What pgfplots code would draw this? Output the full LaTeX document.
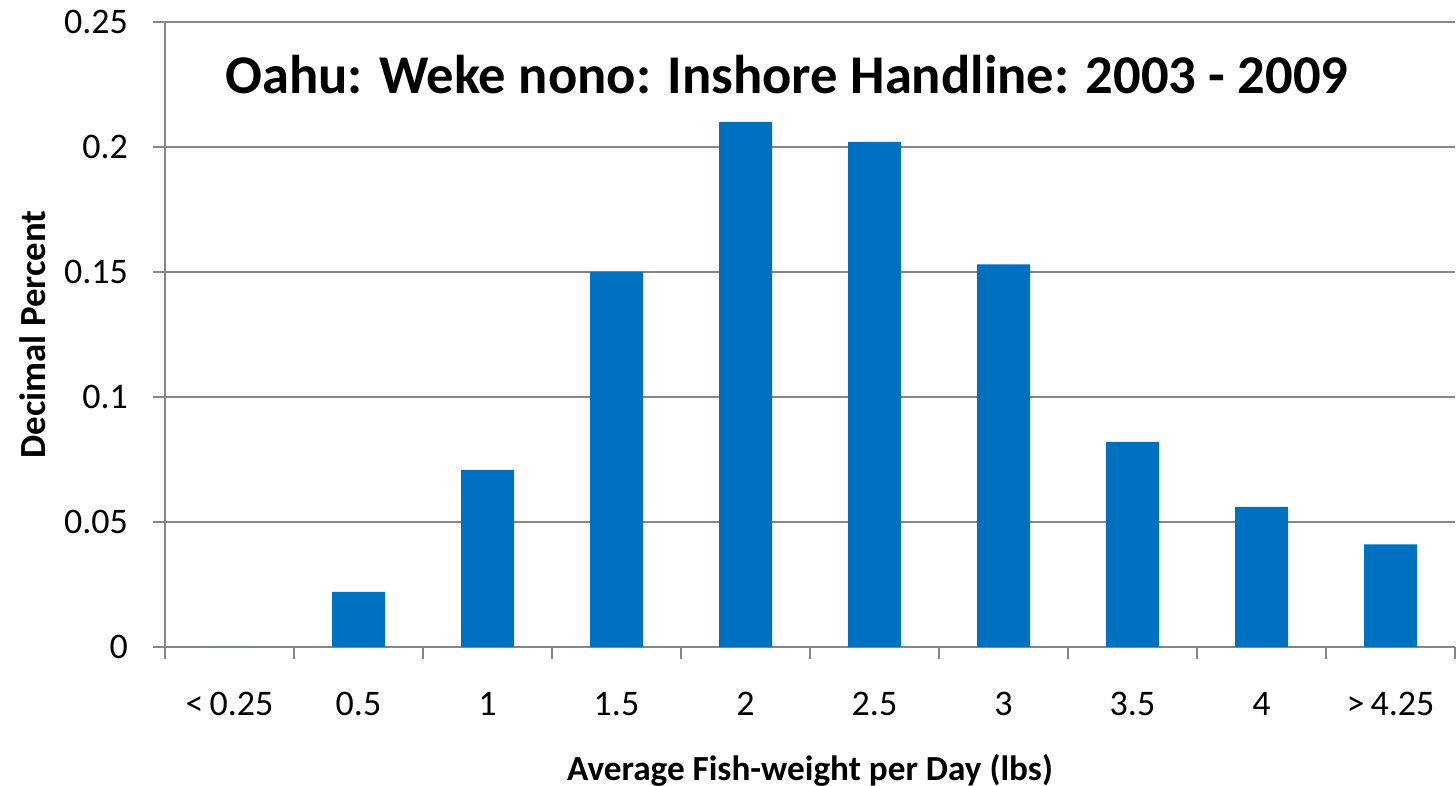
\documentclass[border=0pt]{standalone}
\usepackage{pgfplots}
\pgfplotsset{compat=1.18}
\usepackage{fontspec}
\setmainfont{Carlito}
\definecolor{barblue}{HTML}{0070C0}
\definecolor{axgray}{HTML}{868686}
\begin{document}
\begin{tikzpicture}
\begin{axis}[
  at={(0,0)}, anchor=south west,
  scale only axis,
  width=645pt, height=312.5pt,
  xmin=-0.5, xmax=9.5,
  ymin=0, ymax=0.25,
  axis x line*=bottom,
  axis y line*=left,
  axis line style={axgray, line width=1pt},
  ytick={0,0.05,...,0.25},
  yticklabels={0,0.05,0.1,0.15,0.2,0.25},
  ymajorgrids,
  grid style={axgray, line width=0.8pt},
  xtick={0,...,9},
  xticklabels={{<\,0.25},0.5,1,1.5,2,2.5,3,3.5,4,{>\,4.25}},
  minor xtick={-0.5,0.5,...,9.5},
  tick align=outside,
  major tick length=6pt,
  minor tick length=6pt,
  x tick style={draw=none},
  minor x tick style={draw=axgray, line width=1pt},
  y tick style={draw=axgray, line width=0.8pt},
  xticklabel style={font=\fontsize{18}{21}\selectfont, yshift=-13pt},
  yticklabel style={font=\fontsize{18}{21}\selectfont, xshift=-9pt},
  /pgf/number format/assume math mode=true,
  xlabel={\textbf{Average Fish-weight per Day (lbs)}},
  ylabel={\textbf{Decimal Percent}},
  xlabel style={font=\fontsize{17.6}{20}\selectfont, at={(axis description cs:0.5,0)}, anchor=center, yshift=-61.5pt},
  ylabel style={font=\fontsize{18.4}{20}\selectfont, at={(axis description cs:0,0.5)}, anchor=center, xshift=0pt, yshift=66pt},
  clip=false,
]
\addplot[ybar, bar width=26.5pt, fill=barblue, draw=none] coordinates {
 (0,0) (1,0.022) (2,0.0708) (3,0.150) (4,0.210) (5,0.202) (6,0.153) (7,0.082) (8,0.056) (9,0.041)
};
\node[font=\fontsize{27.3}{32}\selectfont\bfseries, anchor=center] at (axis cs:4.32,0.2288) {Oahu: Weke nono: Inshore Handline: 2003 - 2009};
\end{axis}
\pgfresetboundingbox
\path (-82.5pt,-69.5pt) rectangle (645.5pt,323.5pt);
\end{tikzpicture}
\end{document}
